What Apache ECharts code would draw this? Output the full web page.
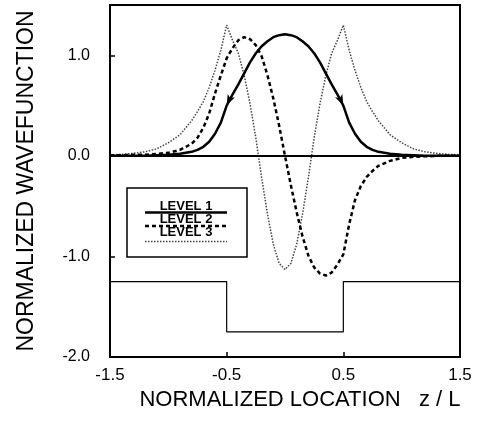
<!DOCTYPE html>
<html>
<head>
<meta charset="utf-8">
<script src="https://cdn.jsdelivr.net/npm/echarts@6/dist/echarts.min.js"></script>
<style>
  html, body { margin: 0; padding: 0; background: #fff; }
  #chart { width: 481px; height: 422px; }
</style>
</head>
<body>
<div id="chart"></div>
<script>
const zs = [-1.5, -1.4, -1.3, -1.2, -1.1, -1.0, -0.9, -0.8, -0.75, -0.7, -0.65, -0.6, -0.55, -0.5,
  -0.45, -0.4, -0.35, -0.3, -0.25, -0.2, -0.15, -0.1, -0.05, 0,
  0.05, 0.1, 0.15, 0.2, 0.25, 0.3, 0.35, 0.4, 0.45, 0.5,
  0.55, 0.6, 0.65, 0.7, 0.75, 0.8, 0.9, 1.0, 1.1, 1.2, 1.3, 1.4, 1.5]

const level1 = [0, 0, 0, 0, 0.005, 0.01, 0.02, 0.04, 0.06, 0.09, 0.14, 0.22, 0.33, 0.50,
  0.61, 0.71, 0.82, 0.93, 1.02, 1.09, 1.14, 1.18, 1.20, 1.21,
  1.20, 1.18, 1.14, 1.09, 1.02, 0.93, 0.82, 0.71, 0.61, 0.50,
  0.33, 0.22, 0.14, 0.09, 0.06, 0.04, 0.02, 0.01, 0.005, 0, 0, 0, 0]

const level2 = [0.005, 0.005, 0.01, 0.01, 0.02, 0.03, 0.06, 0.12, 0.18, 0.28, 0.42, 0.62, 0.80, 0.97,
  1.07, 1.15, 1.18, 1.16, 1.10, 0.99, 0.80, 0.57, 0.30, 0,
  -0.29, -0.56, -0.80, -0.99, -1.11, -1.17, -1.19, -1.16, -1.08, -0.98,
  -0.68, -0.44, -0.30, -0.21, -0.15, -0.10, -0.05, -0.02, -0.01, -0.005, 0, 0, 0]

const level3 = [0.01, 0.015, 0.025, 0.04, 0.07, 0.13, 0.21, 0.35, 0.44, 0.54, 0.68, 0.85, 1.05, 1.30,
  1.15, 1.02, 0.80, 0.52, 0.18, -0.22, -0.58, -0.88, -1.07, -1.13,
  -1.07, -0.88, -0.58, -0.22, 0.18, 0.52, 0.80, 1.02, 1.15, 1.30,
  1.05, 0.85, 0.68, 0.54, 0.44, 0.35, 0.21, 0.13, 0.07, 0.04, 0.025, 0.015, 0.01]

// potential profile of the well
const wellZ = [-1.5, -0.5, -0.5, 0.5, 0.5, 1.5]
const wellV = [-1.25, -1.25, -1.75, -1.75, -1.25, -1.25]

const legendNames = ['LEVEL 1', 'LEVEL 2', 'LEVEL 3']

function pairs (xs, ys) {
  return xs.map((x, i) => [x, ys[i]])
}

// small arrow heads on level 1 at the well edges
function withArrows (data) {
  return data.map(p => {
    if (p[0] === -0.5) return { value: p, symbol: 'arrow', symbolSize: [6, 11], symbolRotate: 155 }
    if (p[0] === 0.5) return { value: p, symbol: 'arrow', symbolSize: [6, 11], symbolRotate: 205 }
    return { value: p, symbol: 'none' }
  })
}

const font = 'Liberation Sans'
const chart = echarts.init(document.getElementById('chart'))

const option = {
  animation: false,
  backgroundColor: '#fff',
  grid: {
    left: 110,
    right: 21,
    top: 5,
    bottom: 65,
    show: true,
    borderColor: '#000',
    borderWidth: 2
  },
  xAxis: {
    type: 'value',
    min: -1.5,
    max: 1.5,
    interval: 1,
    name: 'NORMALIZED LOCATION   z / L',
    nameLocation: 'middle',
    nameGap: 28,
    nameTextStyle: { fontFamily: font, fontSize: 22, color: '#000', padding: [0, 0, 0, 30] },
    axisLine: { onZero: false, lineStyle: { color: '#000', width: 2 } },
    axisTick: { inside: true, length: 5, lineStyle: { color: '#000', width: 1.5 } },
    axisLabel: {
      margin: 10,
      fontFamily: font,
      fontSize: 17,
      color: '#000',
      formatter: v => v.toFixed(1)
    },
    splitLine: { show: false }
  },
  yAxis: {
    type: 'value',
    min: -2,
    max: 1.5,
    interval: 1,
    name: 'NORMALIZED WAVEFUNCTION',
    nameLocation: 'middle',
    nameGap: 72,
    nameTextStyle: { fontFamily: font, fontSize: 23, color: '#000' },
    axisLine: { onZero: false, lineStyle: { color: '#000', width: 2 } },
    axisTick: { inside: true, length: 5, lineStyle: { color: '#000', width: 1.5 } },
    axisLabel: {
      margin: 20,
      fontFamily: font,
      fontSize: 16,
      color: '#000',
      formatter: v => (v > 1.2 ? '' : v.toFixed(1))
    },
    splitLine: { show: false }
  },
  series: [
    {
      name: 'well',
      type: 'line',
      data: pairs(wellZ, wellV),
      showSymbol: false,
      lineStyle: { color: '#000', width: 1.2 },
      markLine: {
        silent: true,
        symbol: 'none',
        label: { show: false },
        lineStyle: { color: '#000', width: 2, type: 'solid' },
        data: [{ yAxis: 0 }]
      }
    },
    {
      name: legendNames[2],
      type: 'line',
      data: pairs(zs, level3),
      showSymbol: false,
      lineStyle: { color: '#444', width: 1.5, type: [1.5, 1.5] }
    },
    {
      name: legendNames[1],
      type: 'line',
      data: pairs(zs, level2),
      showSymbol: false,
      lineStyle: { color: '#000', width: 2.5, type: [4, 3] }
    },
    {
      name: legendNames[0],
      type: 'line',
      data: withArrows(pairs(zs, level1)),
      showSymbol: true,
      itemStyle: { color: '#000' },
      lineStyle: { color: '#000', width: 2.5 }
    }
  ],
  graphic: [
    {
      type: 'rect',
      shape: { x: 127, y: 188, width: 120, height: 69 },
      style: { fill: '#fff', stroke: '#000', lineWidth: 1.5 },
      z: 10
    },
    {
      type: 'line',
      shape: { x1: 145, y1: 212.5, x2: 227, y2: 212.5 },
      style: { stroke: '#000', lineWidth: 2.5 },
      z: 11
    },
    {
      type: 'line',
      shape: { x1: 145, y1: 226, x2: 227, y2: 226 },
      style: { stroke: '#000', lineWidth: 2.5, lineDash: [4, 3] },
      z: 11
    },
    {
      type: 'line',
      shape: { x1: 145, y1: 241.5, x2: 227, y2: 241.5 },
      style: { stroke: '#444', lineWidth: 1.5, lineDash: [1.5, 1.5] },
      z: 11
    },
    {
      type: 'text',
      x: 186, y: 206.5,
      style: { text: legendNames[0], fontFamily: font, fontWeight: 'bold', fontSize: 13, fill: '#000', align: 'center', verticalAlign: 'middle' },
      z: 12
    },
    {
      type: 'text',
      x: 186, y: 219.5,
      style: { text: legendNames[1], fontFamily: font, fontWeight: 'bold', fontSize: 13, fill: '#000', align: 'center', verticalAlign: 'middle' },
      z: 12
    },
    {
      type: 'text',
      x: 186, y: 232.5,
      style: { text: legendNames[2], fontFamily: font, fontWeight: 'bold', fontSize: 13, fill: '#000', align: 'center', verticalAlign: 'middle' },
      z: 12
    }
  ]
}

chart.setOption(option)
</script>
</body>
</html>
